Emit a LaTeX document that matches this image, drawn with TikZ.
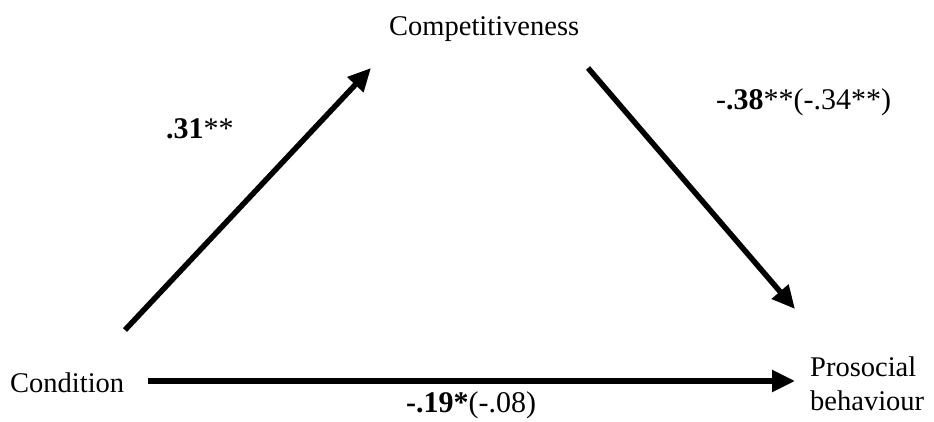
\documentclass[tikz,border=0pt]{standalone}
\usepackage{fontspec}
\setmainfont{Liberation Serif}
\usetikzlibrary{arrows.meta}
\begin{document}
\begin{tikzpicture}[x=1pt,y=1pt,
  lbl/.style={inner sep=0pt,anchor=base west,font=\fontsize{28.5}{34}\selectfont},
  coef/.style={inner sep=0pt,anchor=base west,font=\fontsize{30}{36}\selectfont},
  path/.style={line width=5.5pt,-{Triangle[length=23pt,width=21pt]}}]
\useasboundingbox (0,0) rectangle (934,422);
% nodes (y = 422 - pixel y)
\node[lbl] (comp) at (389,386) {Competitiveness};
\node[lbl] (cond) at (10,29) {Condition};
\node[lbl] (pro) at (810,45) {Prosocial};
\node[lbl] (beh) at (810,11) {behaviour};
% connector ends
\coordinate (a1) at (125,92);
\coordinate (a2) at (371,354);
\coordinate (b1) at (588,354);
\coordinate (b2) at (795,113);
\coordinate (c1) at (148,41);
\coordinate (c2) at (795,41);
\draw[path] (a1) -- (a2);
\draw[path] (b1) -- (b2);
\draw[path] (c1) -- (c2);
% labels
\node[coef] (l1) at (166,283) {\textbf{.31}**};
\node[coef] (l2) at (716,312) {-\textbf{.38}**(-.34**)};
\node[coef] (l3) at (406,9) {\textbf{-.19*}(-.08)};
\end{tikzpicture}
\end{document}
